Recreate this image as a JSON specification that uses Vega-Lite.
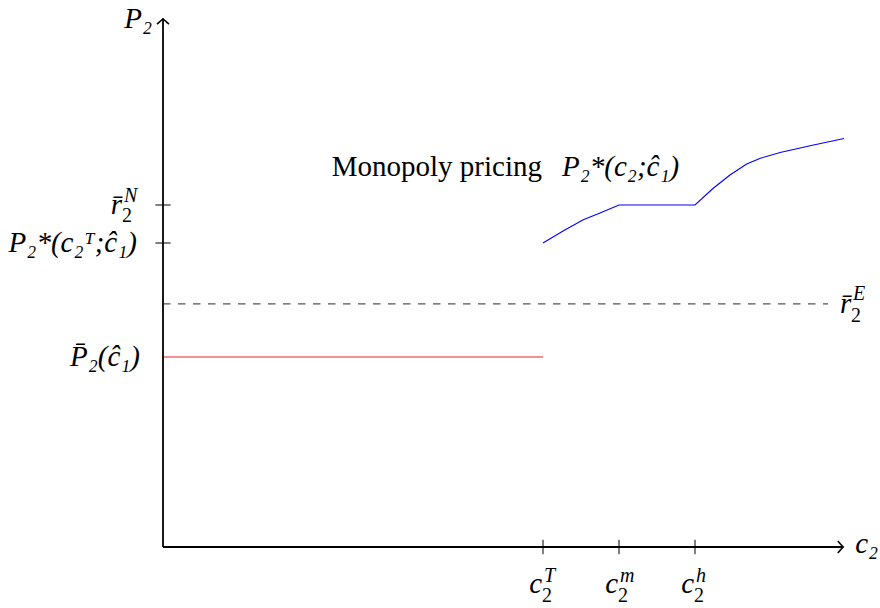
{
  "$schema": "https://vega.github.io/schema/vega-lite/v6.json",
  "width": 684,
  "height": 532,
  "autosize": {"type": "none"},
  "padding": {"left": 163, "top": 15, "right": 33, "bottom": 61},
  "background": "white",
  "config": {
    "view": {"stroke": null},
    "text": {"font": "Liberation Serif", "fontSize": 29, "color": "black"}
  },
  "datasets": {
    "monopoly": [
      {"x": 5.0, "y": 8.0},
      {"x": 5.27, "y": 8.32},
      {"x": 5.53, "y": 8.61},
      {"x": 5.75, "y": 8.79},
      {"x": 6.0, "y": 9.0},
      {"x": 7.0, "y": 9.0},
      {"x": 7.24, "y": 9.44},
      {"x": 7.46, "y": 9.79},
      {"x": 7.68, "y": 10.08},
      {"x": 7.86, "y": 10.23},
      {"x": 8.12, "y": 10.38},
      {"x": 8.56, "y": 10.58},
      {"x": 8.96, "y": 10.75}
    ],
    "xticks": [
      {"x": 5, "y": 0, "sup": "T"},
      {"x": 6, "y": 0, "sup": "m"},
      {"x": 7, "y": 0, "sup": "h"}
    ],
    "yticks": [
      {"x": 0, "y": 9},
      {"x": 0, "y": 8}
    ],
    "rN": [{"x": 0, "y": 9, "sup": "N"}],
    "rE": [{"x": 8.75, "y": 6.4, "sup": "E"}]
  },
  "encoding": {
    "x": {"field": "x", "type": "quantitative", "scale": {"domain": [0, 9], "nice": false, "zero": false}, "axis": null},
    "y": {"field": "y", "type": "quantitative", "scale": {"domain": [0, 14], "nice": false, "zero": false}, "axis": null}
  },
  "layer": [
    {
      "data": {"values": [{"x": 0, "x2": 8.75, "y": 6.4}]},
      "mark": {"type": "rule", "color": "#555555", "strokeWidth": 1.2, "strokeDash": [7.5, 7.5]},
      "encoding": {"x2": {"field": "x2"}}
    },
    {
      "data": {"values": [{"x": 0, "x2": 5, "y": 5}]},
      "mark": {"type": "rule", "color": "#f26b6b", "strokeWidth": 1.3},
      "encoding": {"x2": {"field": "x2"}}
    },
    {
      "data": {"name": "monopoly"},
      "mark": {"type": "line", "color": "#0000ff", "strokeWidth": 1.1},
      "encoding": {"order": {"field": "x", "type": "quantitative"}}
    },
    {
      "data": {"values": [
        {"x": 0, "y": 0, "x2": 8.95, "y2": 0},
        {"x": 0, "y": 0, "x2": 0, "y2": 13.9}
      ]},
      "mark": {"type": "rule", "color": "black", "strokeWidth": 1.8},
      "encoding": {"x2": {"field": "x2"}, "y2": {"field": "y2"}}
    },
    {
      "data": {"values": [{"x": 8.95, "y": 0}]},
      "mark": {"type": "point", "shape": "M-0.9,-1 Q-0.25,-0.25 0,0 Q-0.25,0.25 -0.9,1", "filled": false, "color": "black", "strokeWidth": 1.6, "size": 144, "opacity": 1}
    },
    {
      "data": {"values": [{"x": 0, "y": 13.9}]},
      "mark": {"type": "point", "shape": "M-0.9,-1 Q-0.25,-0.25 0,0 Q-0.25,0.25 -0.9,1", "angle": -90, "filled": false, "color": "black", "strokeWidth": 1.6, "size": 144, "opacity": 1}
    },
    {
      "data": {"name": "xticks"},
      "mark": {"type": "rule", "color": "black", "strokeWidth": 1},
      "encoding": {"y": {"datum": -0.19}, "y2": {"datum": 0.19}}
    },
    {
      "data": {"name": "yticks"},
      "mark": {"type": "rule", "color": "black", "strokeWidth": 1},
      "encoding": {"x": {"datum": -0.1}, "x2": {"datum": 0.1}}
    },
    {
      "data": {"name": "xticks"},
      "mark": {"type": "text", "text": "c", "fontStyle": "italic", "align": "right", "baseline": "alphabetic", "dx": -1, "dy": 46}
    },
    {
      "data": {"name": "xticks"},
      "mark": {"type": "text", "text": "2", "fontSize": 20, "align": "left", "baseline": "alphabetic", "dx": -1, "dy": 55}
    },
    {
      "data": {"name": "xticks"},
      "mark": {"type": "text", "fontSize": 20, "fontStyle": "italic", "align": "left", "baseline": "alphabetic", "dx": 1, "dy": 35},
      "encoding": {"text": {"field": "sup"}}
    },
    {
      "data": {"name": "rN"},
      "mark": {"type": "text", "text": "r̄", "fontStyle": "italic", "align": "right", "baseline": "alphabetic", "dx": -41, "dy": 9}
    },
    {
      "data": {"name": "rN"},
      "mark": {"type": "text", "text": "2", "fontSize": 20, "align": "left", "baseline": "alphabetic", "dx": -41, "dy": 17}
    },
    {
      "data": {"name": "rN"},
      "mark": {"type": "text", "fontSize": 20, "fontStyle": "italic", "align": "left", "baseline": "alphabetic", "dx": -39, "dy": -3},
      "encoding": {"text": {"field": "sup"}}
    },
    {
      "data": {"name": "rE"},
      "mark": {"type": "text", "text": "r̄", "fontStyle": "italic", "align": "left", "baseline": "alphabetic", "dx": 12, "dy": 9}
    },
    {
      "data": {"name": "rE"},
      "mark": {"type": "text", "text": "2", "fontSize": 20, "align": "left", "baseline": "alphabetic", "dx": 23, "dy": 18}
    },
    {
      "data": {"name": "rE"},
      "mark": {"type": "text", "fontSize": 20, "fontStyle": "italic", "align": "left", "baseline": "alphabetic", "dx": 25, "dy": -4},
      "encoding": {"text": {"field": "sup"}}
    },
    {
      "data": {"values": [{"x": 0, "y": 8, "label": "P₂*(c₂ᵀ;ĉ₁)"}]},
      "mark": {"type": "text", "fontStyle": "italic", "align": "right", "baseline": "alphabetic", "dx": -26, "dy": 9},
      "encoding": {"text": {"field": "label"}}
    },
    {
      "data": {"values": [{"x": 0, "y": 5, "label": "P̄₂(ĉ₁)"}]},
      "mark": {"type": "text", "fontStyle": "italic", "align": "right", "baseline": "alphabetic", "dx": -23, "dy": 9},
      "encoding": {"text": {"field": "label"}}
    },
    {
      "data": {"values": [{"x": 0, "y": 13.9, "label": "P₂"}]},
      "mark": {"type": "text", "fontStyle": "italic", "align": "right", "baseline": "alphabetic", "dx": -11, "dy": 9},
      "encoding": {"text": {"field": "label"}}
    },
    {
      "data": {"values": [{"x": 8.95, "y": 0, "label": "c₂"}]},
      "mark": {"type": "text", "fontStyle": "italic", "align": "left", "baseline": "alphabetic", "dx": 12, "dy": 6},
      "encoding": {"text": {"field": "label"}}
    },
    {
      "data": {"values": [{"x": 5.25, "y": 9.77, "label": "Monopoly pricing"}]},
      "mark": {"type": "text", "align": "right", "baseline": "alphabetic", "dx": -20},
      "encoding": {"text": {"field": "label"}}
    },
    {
      "data": {"values": [{"x": 5.25, "y": 9.77, "label": "P₂*(c₂;ĉ₁)"}]},
      "mark": {"type": "text", "fontStyle": "italic", "align": "left", "baseline": "alphabetic"},
      "encoding": {"text": {"field": "label"}}
    }
  ]
}
